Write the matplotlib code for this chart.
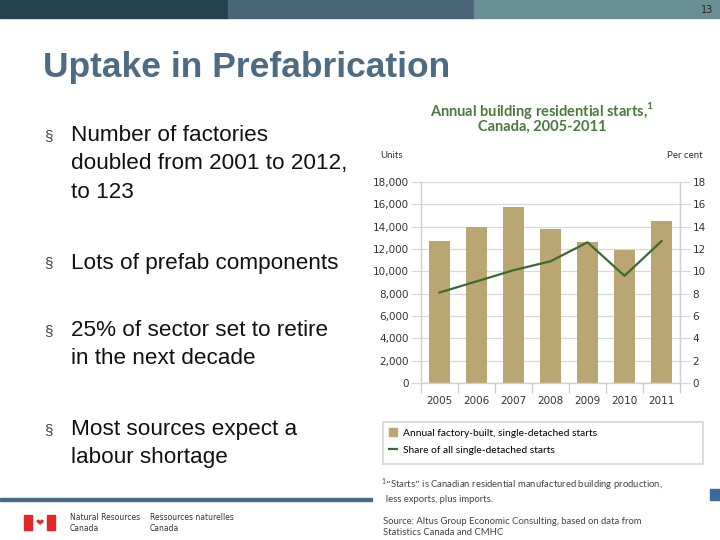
import matplotlib
matplotlib.use("Agg")
import matplotlib.pyplot as plt
from matplotlib.patches import Rectangle, Patch
from matplotlib.lines import Line2D

# data
years = ["2005", "2006", "2007", "2008", "2009", "2010", "2011"]
factory_starts = [12700, 14000, 15750, 13800, 12600, 11900, 14500]
share_pct = [8.1, 9.1, 10.1, 10.9, 12.6, 9.6, 12.7]
left_ticks = [0, 2000, 4000, 6000, 8000, 10000, 12000, 14000, 16000, 18000]
right_ticks = [0, 2, 4, 6, 8, 10, 12, 14, 16, 18]

bullets = [
    ["Number of factories", "doubled from 2001 to 2012,", "to 123"],
    ["Lots of prefab components"],
    ["25% of sector set to retire", "in the next decade"],
    ["Most sources expect a", "labour shortage"],
]
bullet_y = [136, 263, 331, 430]

W, H = 720, 540
fig = plt.figure(figsize=(7.2, 5.4), dpi=100)
fig.patch.set_facecolor("white")

def fx(x):
    return x / W

def fy(y):
    return 1 - y / H

# header strip
for x0, x1, c in [(0, 228, "#25404f"), (228, 474, "#4a6577"), (474, 720, "#6b8f97")]:
    fig.patches.append(Rectangle((fx(x0), fy(18)), fx(x1 - x0), 18 / H,
                                 transform=fig.transFigure, color=c, zorder=0))
fig.text(fx(713), fy(10), "13", ha="right", va="center", fontsize=7, color="#222222")

# slide title
fig.text(fx(43), fy(68), "Uptake in Prefabrication", fontsize=25.5, fontweight="bold",
         color="#4d6b82", family="Liberation Sans", va="center")

# bullets
for lines, y0 in zip(bullets, bullet_y):
    fig.text(fx(44), fy(y0), "§", fontsize=11, color="#444444",
             family="Liberation Sans", va="center")
    for k, ln in enumerate(lines):
        fig.text(fx(71), fy(y0 + 28 * k), ln, fontsize=16.2, color="#111111",
                 family="Liberation Sans", va="center")

# footer
fig.patches.append(Rectangle((0, fy(501)), fx(372), 3 / H, transform=fig.transFigure,
                             color="#4a6a85", zorder=0))
fig.patches.append(Rectangle((fx(710), fy(500)), fx(10), 11 / H, transform=fig.transFigure,
                             color="#3d6a9a", zorder=0))
fig.patches.append(Rectangle((fx(24), fy(530)), fx(8), 15 / H, transform=fig.transFigure,
                             color="#e0262b"))
fig.patches.append(Rectangle((fx(47), fy(530)), fx(8), 15 / H, transform=fig.transFigure,
                             color="#e0262b"))
fig.text(fx(39.5), fy(522.5), "\u2764", fontsize=7, color="#e0262b", ha="center", va="center",
         family="DejaVu Sans")
fig.text(fx(70), fy(523), "Natural Resources\nCanada", fontsize=5.5, color="#333333",
         va="center", linespacing=1.2)
fig.text(fx(150), fy(523), "Ressources naturelles\nCanada", fontsize=5.5, color="#333333",
         va="center", linespacing=1.2)

# chart
ax = fig.add_axes([fx(421), fy(383), fx(680 - 421), (383 - 182) / H])
ax2 = ax.twinx()
x = list(range(len(years)))
ax.bar(x, factory_starts, width=0.56, color="#b9a672", zorder=2)
ax2.plot(x, share_pct, color="#3b6a33", lw=1.6, zorder=3)

ax.set_xlim(-0.5, len(years) - 0.5)
ax.set_ylim(0, 18000)
ax2.set_ylim(0, 18)
ax.set_yticks(left_ticks)
ax.set_yticklabels([f"{v:,}" for v in left_ticks])
ax2.set_yticks(right_ticks)
ax.grid(axis="y", color="#d8d8d8", lw=0.9, zorder=0)
ax.set_axisbelow(True)
ax.set_xticks(x)
ax.set_xticklabels(years)
ax.set_xticks([i - 0.5 for i in range(len(years) + 1)], minor=True)
ax.tick_params(axis="x", which="major", length=0, pad=9, labelsize=7.5, colors="#333333")
ax.tick_params(axis="x", which="minor", length=7, color="#cccccc", width=0.9, direction="out")
ax.tick_params(axis="y", length=7, color="#d8d8d8", width=0.9, labelsize=7.5,
               colors="#333333", pad=2)
ax2.tick_params(axis="y", length=7, color="#d8d8d8", width=0.9, labelsize=7.5,
                colors="#333333", pad=2)
for a in (ax, ax2):
    a.spines["top"].set_visible(False)
    for s in ["left", "right", "bottom"]:
        a.spines[s].set_color("#d0d0d0")
        a.spines[s].set_linewidth(0.9)

fig.text(fx(542), fy(111), "Annual building residential starts,$^{\\mathregular{1}}$",
         ha="center", va="center", fontsize=10.5, fontweight="bold", color="#4a7a3e",
         family="Lato")
fig.text(fx(542), fy(127), "Canada, 2005-2011", ha="center", va="center", fontsize=10.5,
         fontweight="bold", color="#4a7a3e", family="Lato")
fig.text(fx(380), fy(156), "Units", fontsize=7, color="#333333", va="center", family="Lato")
fig.text(fx(703), fy(156), "Per cent", fontsize=7, color="#333333", va="center", ha="right",
         family="Lato")

# legend box
fig.patches.append(Rectangle((fx(383), fy(464)), fx(703 - 383), 42 / H,
                             transform=fig.transFigure, facecolor="white",
                             edgecolor="#d5d5d5", lw=1.2))
handles = [Patch(color="#b9a672"), Line2D([0], [0], color="#3b6a33", lw=1.6)]
labels = ["Annual factory-built, single-detached starts", "Share of all single-detached starts"]
fig.legend(handles, labels, loc="upper left", bbox_to_anchor=(fx(387), fy(426)),
           frameon=False, handlelength=0.8, handleheight=0.8,
           handletextpad=0.6, labelspacing=0.75, borderaxespad=0, borderpad=0.2,
           prop={"family": "Lato", "size": 7.4})

fig.text(fx(381), fy(490), "$^{\\mathregular{1}}$\u201cStarts\u201d is Canadian residential manufactured building production,\n  less exports, plus imports.",
         fontsize=6.8, color="#444444", va="center", family="Lato", linespacing=1.25)
fig.text(fx(383), fy(527), "Source: Altus Group Economic Consulting, based on data from\nStatistics Canada and CMHC",
         fontsize=6.8, color="#444444", va="center", family="Lato", linespacing=1.25)

fig.savefig("out.png", dpi=100)
